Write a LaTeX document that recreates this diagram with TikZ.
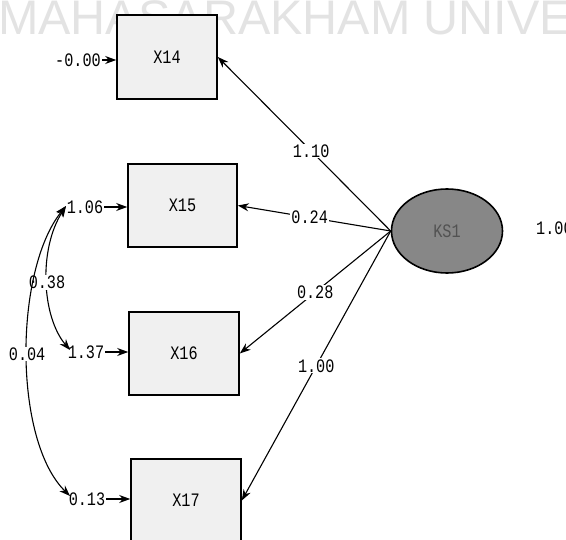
\documentclass[tikz,border=0pt]{standalone}
\usepackage{fontspec}
\setmainfont{Liberation Serif}
\newfontfamily\lblfont[FakeStretch=0.8]{Liberation Mono}
\newfontfamily\wmfont{Liberation Sans}
\usetikzlibrary{arrows.meta,shapes.geometric}
\tikzset{
  lbl/.style={font=\lblfont\fontsize{19}{19}\selectfont, inner sep=1pt},
  lblw/.style={lbl, fill=white},
  obs/.style={draw, line width=1.6pt, fill=black!6, minimum width=108pt, minimum height=83pt, inner sep=0pt, font=\lblfont\fontsize{19}{19}\selectfont},
  lat/.style={draw, ellipse, line width=1.6pt, fill=black!47, minimum width=111pt, minimum height=84pt, inner sep=0pt, text=black!68, font=\lblfont\fontsize{19}{19}\selectfont},
  arr/.style={line width=1.1pt, -{Stealth[length=11pt,width=8pt]}},
  arrboth/.style={line width=1.1pt, {Stealth[length=11pt,width=8pt]}-{Stealth[length=11pt,width=8pt]}},
}
\begin{document}
\begin{tikzpicture}[x=1pt,y=-1pt]
\useasboundingbox (0,0) rectangle (566,540);
\clip (0,0) rectangle (566,540);
% watermark
\node[anchor=base west, inner sep=0pt, text=black!11, font=\wmfont\fontsize{48.5}{48.5}\selectfont] (wm) at (-2,35) {MAHASARAKHAM UNIVE};
% observed variables
\node[obs, minimum width=100pt, minimum height=84pt] (X14) at (167,57) {X14};
\node[obs, minimum width=109pt] (X15) at (182.5,205.5) {X15};
\node[obs, minimum width=110pt] (X16) at (184,353.5) {X16};
\node[obs, minimum width=110pt] (X17) at (186,500.5) {X17};
% latent
\node[lat] (F) at (447,231) {KS1};
\node[lbl, anchor=west] (fv) at (535,228) {1.00};
% error variances
\node[lbl] (e14) at (78,60) {-0.00};
\node[lbl] (e15) at (85,207) {1.06};
\node[lbl] (e16) at (86,352) {1.37};
\node[lbl] (e17) at (87,499) {0.13};
\draw[arr] (e14.east) -- (e14.east -| X14.west);
\draw[arr] (e15.east) -- (e15.east -| X15.west);
\draw[arr] (e16.east) -- (e16.east -| X16.west);
\draw[arr] (e17.east) -- (e17.east -| X17.west);
% loadings
\draw[arr] (F.west) -- node[lblw, pos=0.46] {1.10} (X14.east);
\draw[arr] (F.west) -- node[lblw, pos=0.53] {0.24} (X15.east);
\draw[arr] (F.west) -- node[lblw, pos=0.5] {0.28} (X16.east);
\draw[arr] (F.west) -- node[lblw, pos=0.5] {1.00} (X17.east);
% covariances
\coordinate (c15) at (66,206);
\coordinate (c16) at (70,350);
\coordinate (c17) at (70,496);
\draw[arrboth] (c15) .. controls (38,250) and (42,317) .. node[lblw] {0.38} (c16);
\draw[arrboth] (c15) .. controls (14,270) and (13,440) .. node[lblw] {0.04} (c17);
\end{tikzpicture}
\end{document}
